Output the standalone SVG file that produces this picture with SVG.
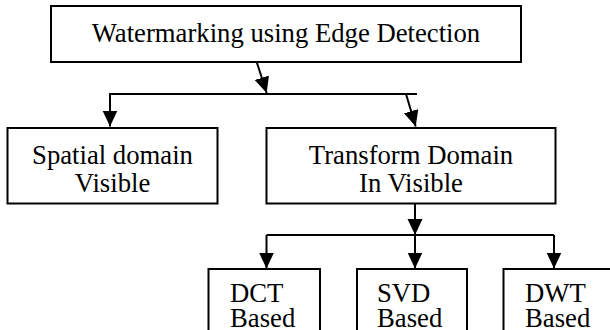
<svg xmlns="http://www.w3.org/2000/svg" width="610" height="330" viewBox="0 0 610 330">
  <style>
    .box { fill: #ffffff; stroke: #000000; stroke-width: 2; }
    .lbl { font-family: 'Liberation Serif', 'Times New Roman', Times, 'DejaVu Serif', serif; font-size: 26.7px; fill: #000000; }
    .mid { text-anchor: middle; }
    .con { fill: none; stroke: #000000; stroke-width: 2; }
  </style>
  <defs>
    <marker id="ah" markerUnits="userSpaceOnUse" markerWidth="17" markerHeight="16" viewBox="0 0 17 16" refX="16" refY="7.5" orient="auto">
      <path d="M0,0 L16,7.5 L0,15 z" fill="#000000"/>
    </marker>
  </defs>

  <g id="connectors">
    <path class="con" d="M256.7,62 L266.7,93" marker-end="url(#ah)"/>
    <path class="con" d="M417,94 H110 V126.5" marker-end="url(#ah)"/>
    <path class="con" d="M406,94 L415.7,126.5" marker-end="url(#ah)"/>
    <path class="con" d="M415,204 V235" marker-end="url(#ah)"/>
    <path class="con" d="M266.5,235 H554"/>
    <path class="con" d="M266.5,235 V268.5" marker-end="url(#ah)"/>
    <path class="con" d="M415,235 V268.5" marker-end="url(#ah)"/>
    <path class="con" d="M554,235 V268.5" marker-end="url(#ah)"/>
  </g>

  <g id="node-watermarking">
    <rect class="box" x="51" y="6" width="470" height="56"/>
    <text class="lbl mid" font-family="Liberation Serif, serif" x="286" y="42.3">Watermarking using Edge Detection</text>
  </g>

  <g id="node-spatial">
    <rect class="box" x="7.5" y="128" width="210" height="75.5"/>
    <text class="lbl mid" font-family="Liberation Serif, serif" x="112.5" y="163.5">Spatial domain</text>
    <text class="lbl mid" font-family="Liberation Serif, serif" x="112.5" y="191.5">Visible</text>
  </g>

  <g id="node-transform">
    <rect class="box" x="266.5" y="128" width="289" height="75.5"/>
    <text class="lbl mid" font-family="Liberation Serif, serif" x="411" y="163.5">Transform Domain</text>
    <text class="lbl mid" font-family="Liberation Serif, serif" x="411" y="191.5">In Visible</text>
  </g>

  <g id="node-dct">
    <rect class="box" x="208.5" y="269" width="111.5" height="70"/>
    <text class="lbl" font-family="Liberation Serif, serif" x="230" y="301.7">DCT</text>
    <text class="lbl" font-family="Liberation Serif, serif" x="230" y="326.7">Based</text>
  </g>

  <g id="node-svd">
    <rect class="box" x="357" y="269" width="110" height="70"/>
    <text class="lbl" font-family="Liberation Serif, serif" x="377" y="301.7">SVD</text>
    <text class="lbl" font-family="Liberation Serif, serif" x="377" y="326.7">Based</text>
  </g>

  <g id="node-dwt">
    <rect class="box" x="503.5" y="269" width="110" height="70"/>
    <text class="lbl" font-family="Liberation Serif, serif" x="525" y="301.7">DWT</text>
    <text class="lbl" font-family="Liberation Serif, serif" x="525" y="326.7">Based</text>
  </g>
</svg>
